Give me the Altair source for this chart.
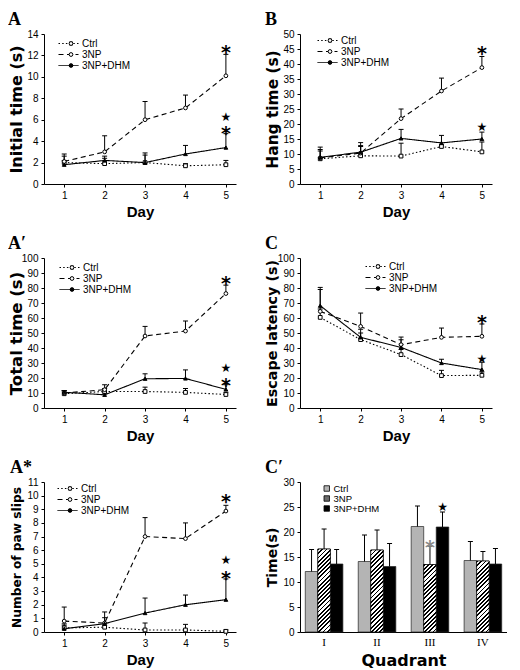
import altair as alt
import pandas as pd

days = [1, 2, 3, 4, 5]
groups = ["Ctrl", "3NP", "3NP+DHM"]

# ---- A: Initial time (s) ----  (mean, upper end of error bar)
init_ctrl = [2.0, 1.9, 2.0, 1.7, 1.8]
init_ctrl_top = [2.6, 2.4, 2.9, 1.9, 2.2]
init_3np = [2.1, 3.0, 6.0, 7.1, 10.1]
init_3np_top = [2.8, 4.5, 7.7, 8.3, 12.1]
init_dhm = [1.8, 2.2, 2.0, 2.8, 3.4]
init_dhm_top = [2.2, 2.6, 2.7, 3.6, 4.7]
init_mark_day = [5, 5, 5]
init_mark_y = [12.8, 6.3, 5.2]
init_mark_txt = ["*", "★", "*"]

# ---- B: Hang time (s) ----
hang_ctrl = [8.4, 9.4, 9.3, 12.5, 10.7]
hang_ctrl_top = [11.5, 12.5, 13.6, 13.0, 14.0]
hang_3np = [8.7, 10.3, 21.8, 31.0, 38.8]
hang_3np_top = [12.3, 13.8, 25.0, 35.3, 42.5]
hang_dhm = [8.9, 10.6, 15.2, 13.7, 15.0]
hang_dhm_top = [11.0, 12.8, 18.2, 16.2, 17.3]
hang_mark_day = [5, 5]
hang_mark_y = [45.3, 19.1]
hang_mark_txt = ["*", "★"]

# ---- A': Total time (s) ----
total_ctrl = [9.5, 11.0, 11.0, 10.4, 9.0]
total_ctrl_top = [11.5, 13.0, 13.9, 13.0, 10.5]
total_3np = [10.0, 12.2, 48.0, 51.3, 76.3]
total_3np_top = [11.5, 15.5, 54.4, 58.0, 81.9]
total_dhm = [10.5, 8.8, 19.5, 19.7, 12.4]
total_dhm_top = [11.5, 10.0, 22.8, 25.4, 15.5]
total_mark_day = [5, 5, 5]
total_mark_y = [87.0, 26.4, 18.6]
total_mark_txt = ["*", "★", "*"]

# ---- C: Escape latency (s) ----
esc_ctrl = [60.4, 45.6, 35.6, 21.6, 21.8]
esc_ctrl_top = [66.0, 50.0, 39.0, 25.1, 24.0]
esc_3np = [64.4, 54.4, 42.2, 47.1, 47.8]
esc_3np_top = [79.0, 63.3, 47.3, 53.3, 56.0]
esc_dhm = [68.2, 47.1, 40.4, 30.0, 25.6]
esc_dhm_top = [80.4, 52.5, 45.5, 32.5, 30.5]
esc_mark_day = [5, 5]
esc_mark_y = [61.0, 32.9]
esc_mark_txt = ["*", "★"]

# ---- A*: Number of paw slips ----
slip_ctrl = [0.3, 0.35, 0.15, 0.15, 0.05]
slip_ctrl_top = [0.6, 0.5, 0.66, 0.56, 0.15]
slip_3np = [0.8, 0.66, 7.0, 6.85, 8.87]
slip_3np_top = [1.83, 1.47, 8.39, 8.0, 9.29]
slip_dhm = [0.24, 0.61, 1.39, 2.0, 2.37]
slip_dhm_top = [0.5, 1.05, 2.49, 2.71, 3.89]
slip_mark_day = [5, 5, 5]
slip_mark_y = [9.95, 5.25, 4.3]
slip_mark_txt = ["*", "★", "*"]

# ---- C': Time(s) per quadrant ----
quads = ["I", "II", "III", "IV"]
quad_ctrl = [12.1, 14.1, 21.1, 14.3]
quad_ctrl_top = [16.5, 19.4, 25.2, 18.1]
quad_3np = [16.6, 16.4, 13.5, 14.2]
quad_3np_top = [20.6, 20.4, 17.2, 16.1]
quad_dhm = [13.6, 13.1, 21.0, 13.6]
quad_dhm_top = [16.5, 17.7, 24.0, 16.7]
quad_mark_quad = ["III", "III"]
quad_mark_group = ["3NP", "3NP+DHM"]
quad_mark_y = [18.0, 25.0]
quad_mark_txt = ["*", "★"]

PW, PH = 192, 150
BW = 207
SANS = "Liberation Sans"


def title(letter):
    return alt.TitleParams(letter, anchor="start", frame="bounds", font="Liberation Serif",
                           fontSize=18, fontWeight="bold", color="black", offset=0)


def line_panel(letter, ytitle, ysize, ymax, ystep, series, marks, leg):
    ctrl, ctrl_top, np3, np3_top, dhm, dhm_top = series
    df = pd.DataFrame({
        "day": days * 3,
        "group": [g for g in groups for _ in days],
        "mean": ctrl + np3 + dhm,
        "top": ctrl_top + np3_top + dhm_top,
    })
    mdf = pd.DataFrame({"day": marks[0], "y": marks[1], "txt": marks[2]})
    xs = alt.Scale(domain=[0.5, 5.25], nice=False, zero=False)
    ys = alt.Scale(domain=[0, ymax], nice=False, zero=True)
    xax = alt.Axis(values=days, title="Day", titleFont=SANS, titleFontSize=15,
                   titlePadding=4, labelFlush=False)
    yax = alt.Axis(values=list(range(0, ymax + 1, ystep)), title=ytitle,
                   titleFont="DejaVu Sans", titleFontSize=ysize, titleX=-28,
                   titleY=PH / 2, titleBaseline="middle", titleAlign="center",
                   labelFlush=False)
    X = alt.X("day:Q", scale=xs, axis=xax)
    Y = alt.Y("mean:Q", scale=ys, axis=yax)
    Yt = alt.Y("top:Q", scale=ys, axis=yax)
    lx, ly = leg
    base = alt.Chart(df)
    lines = base.mark_line(color="black", strokeWidth=1.1).encode(
        X, Y,
        strokeDash=alt.StrokeDash(
            "group:N",
            scale=alt.Scale(domain=groups, range=[[1.5, 2.2], [5, 3.5], [1, 0]]),
            legend=alt.Legend(orient="none", legendX=lx, legendY=ly, title=None,
                              symbolType="stroke", symbolSize=400, symbolStrokeWidth=1,
                              symbolStrokeColor="black", labelFont=SANS, labelFontSize=10,
                              labelColor="black", clipHeight=11, rowPadding=0,
                              labelOffset=3, padding=0)))
    err = base.mark_rule(color="black", strokeWidth=1).encode(X, Y, y2="top:Q")
    caps = base.mark_tick(color="black", orient="horizontal", size=5, thickness=1,
                          opacity=1).encode(X, Yt)
    shape_leg = alt.Legend(orient="none", legendX=lx + 8, legendY=ly, title=None,
                           symbolSize=14, symbolStrokeColor="black", symbolStrokeWidth=1,
                           labelExpr="''", labelFontSize=10, clipHeight=11, rowPadding=0,
                           padding=0)
    pts = base.mark_point(filled=True, size=14, stroke="black", strokeWidth=1,
                          opacity=1).encode(
        X, Y,
        shape=alt.Shape("group:N", sort=groups,
                        scale=alt.Scale(range=["square", "circle", "triangle-up"]),
                        legend=shape_leg),
        fill=alt.Fill("group:N", sort=groups,
                      scale=alt.Scale(range=["white", "white", "black"]),
                      legend=shape_leg))
    mbase = alt.Chart(mdf).encode(x=alt.X("day:Q", scale=xs, axis=xax),
                                  y=alt.Y("y:Q", scale=ys, axis=yax), text="txt:N")
    asts = mbase.transform_filter(alt.datum.txt == "*").mark_text(
        font="DejaVu Sans", fontSize=19, fontWeight="bold", color="black", dy=6)
    stars = mbase.transform_filter(alt.datum.txt == "★").mark_text(
        font="DejaVu Sans", fontSize=12, color="black", dy=0)
    return alt.layer(lines, err, caps, pts, asts, stars).properties(
        width=PW, height=PH, title=title(letter))


def hatch(w, h, period=3.0, frac=0.45):
    k = (w + h) / (w * w + h * h)
    n = max(1, round((w + h) / (2 ** 0.5 * period)))
    stops = []
    for i in range(n):
        a, b, c = i / n, (i + frac) / n, (i + 1) / n
        stops += [{"offset": a, "color": "#000000"}, {"offset": b, "color": "#000000"},
                  {"offset": b, "color": "#ffffff"}, {"offset": c, "color": "#ffffff"}]
    return {"gradient": "linear", "x1": 0, "y1": 0, "x2": k * w, "y2": k * h, "stops": stops}


def bar_panel(letter):
    df = pd.DataFrame({
        "quad": quads * 3,
        "group": [g for g in groups for _ in quads],
        "mean": quad_ctrl + quad_3np + quad_dhm,
        "top": quad_ctrl_top + quad_3np_top + quad_dhm_top,
    })
    p_in, p_out = 0.29, 0.1
    step = BW / (len(quads) - p_in + 2 * p_out)
    barw = step * (1 - p_in) / 3
    hatch_rows = [{"quad": q, "group": "3NP", "mean": v,
                   "grad": hatch(barw, v / 30 * PH)} for q, v in zip(quads, quad_3np)]
    mdf = pd.DataFrame({"quad": quad_mark_quad, "group": quad_mark_group,
                        "y": quad_mark_y, "txt": quad_mark_txt})
    xsc = alt.Scale(domain=quads, paddingInner=p_in, paddingOuter=p_out)
    xax = alt.Axis(labelAngle=0, labelFont="Liberation Serif", labelFontSize=11,
                   labelPadding=4, title="Quadrant", titleFont="DejaVu Sans",
                   titleFontSize=16, titlePadding=5, ticks=False)
    ys = alt.Scale(domain=[0, 30], nice=False)
    yax = alt.Axis(values=list(range(0, 31, 5)), title="Time(s)", titleFont="DejaVu Sans",
                   titleFontSize=14, titleX=-28, titleY=PH / 2, titleBaseline="middle",
                   titleAlign="center", labelFlush=False)
    X = alt.X("quad:N", scale=xsc, axis=xax)
    XO = alt.XOffset("group:N", scale=alt.Scale(domain=groups, paddingInner=0, paddingOuter=0))
    Y = alt.Y("mean:Q", scale=ys, axis=yax, stack=None)
    Yt = alt.Y("top:Q", scale=ys, axis=yax)
    base = alt.Chart(df)
    bars = base.mark_bar(stroke="#222222", strokeWidth=0.7).encode(
        X, XO, Y,
        fill=alt.Fill("group:N",
                      scale=alt.Scale(domain=groups, range=["#b4b4b4", "#6b6b6b", "#000000"]),
                      legend=alt.Legend(orient="none", legendX=22, legendY=2, title=None,
                                        symbolType="square", symbolSize=30,
                                        symbolStrokeColor="black", symbolStrokeWidth=0.8,
                                        labelFont=SANS, labelFontSize=9.5, labelColor="black",
                                        clipHeight=9, rowPadding=0, labelOffset=2,
                                        padding=0)))
    hatched = alt.Chart(alt.Data(values=hatch_rows)).mark_bar(
        stroke="black", strokeWidth=0.7).encode(
        X, XO, alt.Y("mean:Q", scale=ys, axis=yax, stack=None),
        fill=alt.Fill("grad:N", scale=None))
    err = base.mark_rule(color="black", strokeWidth=1).encode(X, XO, Y, y2="top:Q")
    caps = base.mark_tick(color="black", orient="horizontal", size=5, thickness=1,
                          opacity=1).encode(X, XO, Yt)
    mbase = alt.Chart(mdf).encode(x=X, xOffset=XO, y=alt.Y("y:Q", scale=ys, axis=yax),
                                  text="txt:N")
    asts = mbase.transform_filter(alt.datum.txt == "*").mark_text(
        font="DejaVu Sans", fontSize=19, fontWeight="bold", color="#8a8a8a", dy=6)
    stars = mbase.transform_filter(alt.datum.txt == "★").mark_text(
        font="DejaVu Sans", fontSize=12, color="black")
    return alt.layer(bars, hatched, err, caps, asts, stars).properties(
        width=BW, height=PH, title=title(letter))


pA = line_panel("A", "Initial time (s)", 16, 14, 2,
                (init_ctrl, init_ctrl_top, init_3np, init_3np_top, init_dhm, init_dhm_top),
                (init_mark_day, init_mark_y, init_mark_txt), (14, 4))
pB = line_panel("B", "Hang time (s)", 15.4, 50, 5,
                (hang_ctrl, hang_ctrl_top, hang_3np, hang_3np_top, hang_dhm, hang_dhm_top),
                (hang_mark_day, hang_mark_y, hang_mark_txt), (17, 1))
pA2 = line_panel("A\u2032", "Total time (s)", 16.5, 100, 10,
                 (total_ctrl, total_ctrl_top, total_3np, total_3np_top, total_dhm, total_dhm_top),
                 (total_mark_day, total_mark_y, total_mark_txt), (15, 4))
pC = line_panel("C", "Escape latency (s)", 14.3, 100, 10,
                (esc_ctrl, esc_ctrl_top, esc_3np, esc_3np_top, esc_dhm, esc_dhm_top),
                (esc_mark_day, esc_mark_y, esc_mark_txt), (65, 3))
pA3 = line_panel("A*", "Number of paw slips", 12.2, 11, 1,
                 (slip_ctrl, slip_ctrl_top, slip_3np, slip_3np_top, slip_dhm, slip_dhm_top),
                 (slip_mark_day, slip_mark_y, slip_mark_txt), (13, 1))
pC2 = bar_panel("C\u2032")

chart = alt.concat(pA, pB, pA2, pC, pA3, pC2, columns=2,
                   spacing={"row": 16, "column": 29}).resolve_scale(
    x="independent", y="independent", strokeDash="independent",
    shape="independent", fill="independent").resolve_legend(
    strokeDash="independent", shape="independent", fill="independent").properties(
    padding={"left": 0, "top": 3, "right": 0, "bottom": 0},
    background="white").configure_view(stroke=None).configure_axis(
    labelFont=SANS, labelFontSize=10, labelColor="black", titleColor="black",
    titleFontWeight="bold", domainColor="black", tickColor="black", tickSize=3,
    labelPadding=3, grid=False, domainWidth=1, tickWidth=1)

chart.save("out.html", embed_options={"renderer": "svg", "actions": False})
